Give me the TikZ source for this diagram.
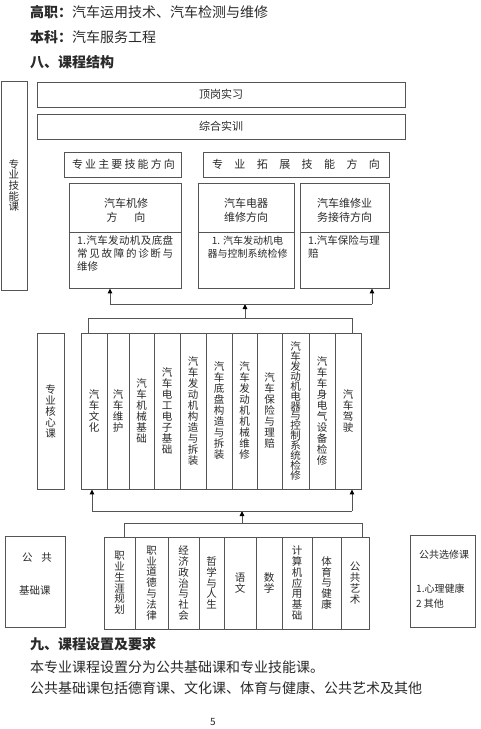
\documentclass[tikz,border=0pt]{standalone}
\usepackage{fontspec}
\setmainfont{Noto Sans CJK SC}
\usetikzlibrary{arrows.meta}
\definecolor{lc}{HTML}{555555}
\definecolor{tc}{HTML}{2A2A2A}
% spread characters over a given width
\def\spreadit#1{\ifx\relax#1\else#1\expandafter\spreadnext\fi}
\def\spreadnext#1{\ifx\relax#1\else\hfill#1\expandafter\spreadnext\fi}
\newcommand\spr[2]{\makebox[#1]{\spreadit#2\relax}}
% vertical stacked text
\newcommand\vt[2][11pt]{\vbox{\baselineskip=#1\lineskiplimit=-100pt\relax\expandafter\vtnext#2\relax}}
\def\vtnext#1{\ifx\relax#1\else\hbox to 1em{\hss#1\hss}\expandafter\vtnext\fi}
\begin{document}
\begin{tikzpicture}[x=1pt,y=-1pt,
  bx/.style={draw=lc,line width=0.9pt,inner sep=0pt},
  ln/.style={draw=lc,line width=1pt},
  ar/.style={draw=lc,line width=1pt,-{Triangle[length=5pt,width=4.5pt,color=black]}},
  hd/.style={anchor=west,inner sep=0pt,text=tc,font=\fontsize{14}{16}\selectfont},
  lab/.style={inner sep=0pt,text=tc,font=\fontsize{11}{14}\selectfont},
  sm/.style={inner sep=0pt,text=tc,font=\fontsize{10.5}{13}\selectfont},
  vl/.style={inner sep=0pt,text=tc,font=\fontsize{10.5}{11}\selectfont}]
\useasboundingbox[fill=white] (0,0) rectangle (480,729);

% header texts
\node[hd] (h1) at (30,12) {\textbf{高职：}汽车运用技术、汽车检测与维修};
\node[hd] (h2) at (30,37) {\textbf{本科：}汽车服务工程};
\node[hd] (h3) at (30,62) {\textbf{八、课程结构}};

% upper boxes
\node[bx,minimum width=26pt,minimum height=209pt] (skill) at (14,185.5) {};
\node[vl] (skillt) at (skill) {\vt[10.7pt]{专业技能课}};
\node[bx,minimum width=368pt,minimum height=25pt,lab] (dg) at (221,94.5) {顶岗实习};
\node[bx,minimum width=368pt,minimum height=25pt,lab] (zh) at (221,126.5) {综合实训};
\node[bx,minimum width=117pt,minimum height=25pt] (zy) at (122.5,164.5) {};
\node[lab] (zyt) at (123.5,164.5) {\spr{103pt}{专业主要技能方向}};
\node[bx,minimum width=186pt,minimum height=25pt] (tz) at (296,164.5) {};
\node[lab] (tzt) at (296,164.5) {\spr{168pt}{专业拓展技能方向}};

% direction boxes
\node[bx,minimum width=112pt,minimum height=49pt] (d1t) at (125,207.5) {};
\node[bx,minimum width=112pt,minimum height=56pt] (d1b) at (125,260) {};
\node[bx,minimum width=96pt,minimum height=49pt] (d2t) at (246,207.5) {};
\node[bx,minimum width=96pt,minimum height=56pt] (d2b) at (246,260) {};
\node[bx,minimum width=89pt,minimum height=49pt] (d3t) at (344.5,207.5) {};
\node[bx,minimum width=89pt,minimum height=56pt] (d3b) at (344.5,260) {};
\node[lab,align=center] (d1tt) at (126,210) {汽车机修\\\spr{39pt}{方向}};
\node[lab,align=center] (d2tt) at (246,210) {汽车电器\\维修方向};
\node[lab,align=center] (d3tt) at (344.5,210) {汽车维修业\\务接待方向};
\node[sm,anchor=north west,align=left] (d1bt) at (77,235.5)
  {\spr{96pt}{{1.}汽车发动机及底盘}\\\spr{96pt}{常见故障的诊断与}\\维修};
\node[sm,align=center,font=\fontsize{10}{13}\selectfont] (d2bt) at (247.5,247.5)
  {1. 汽车发动机电\\器与控制系统检修};
\node[sm,anchor=north west,align=left] (d3bt) at (308,235.5) {1.汽车保险与理\\赔};

% core courses
\node[bx,minimum width=27pt,minimum height=156pt] (core) at (50.5,411) {};
\node[vl] (coret) at (core) {\vt{专业核心课}};
\foreach \a/\b/\s/\t [count=\i] in {
  81/107/11pt/汽车文化,
  107/129/11pt/汽车维护,
  129/154/11pt/汽车机械基础,
  154/180/11pt/汽车电工电子基础,
  180/206/11pt/汽车发动机构造与拆装,
  206/232/11pt/汽车底盘构造与拆装,
  232/257/11pt/汽车发动机机械维修,
  257/282/11pt/汽车保险与理赔,
  282/309/9.9pt/汽车发动机电器与控制系统检修,
  309/335/11pt/汽车车身电气设备检修,
  335/361/11pt/汽车驾驶}{
  \node[bx,minimum width={(\b-\a)*1pt},minimum height=156pt] (c\i) at ({(\a+\b)/2},411) {};
  \node[vl] (ct\i) at (c\i) {\vt[\s]{\t}};
}

% public basic courses
\node[bx,minimum width=60pt,minimum height=91pt] (gj) at (35,581.5) {};
\node[sm] (gjt1) at (37,558) {\spr{30pt}{公共}};
\node[sm] (gjt2) at (35,590) {基础课};
\foreach \a/\b/\t [count=\i] in {
  104/135/职业生涯规划,
  135/168/职业道德与法律,
  168/199/经济政治与社会,
  199/224/哲学与人生,
  224/256/语文,
  256/282/数学,
  282/312/计算机应用基础,
  312/341/体育与健康,
  341/369/公共艺术}{
  \node[bx,minimum width={(\b-\a)*1pt},minimum height=92pt] (p\i) at ({(\a+\b)/2},583) {};
  \node[vl] (pt\i) at (p\i) {\vt[10.8pt]{\t}};
}
\node[bx,minimum width=65pt,minimum height=92pt] (xx) at (442.5,581) {};
\node[sm,anchor=west,font=\fontsize{10}{12}\selectfont] (xxt1) at (419,555) {公共选修课};
\node[sm,anchor=west,font=\fontsize{10}{12}\selectfont] (xxt2) at (416,589) {1.心理健康};
\node[sm,anchor=west,font=\fontsize{10}{12}\selectfont] (xxt3) at (416,604) {2 其他};

% connectors: core -> directions
\coordinate (k1) at (88,318);
\coordinate (k2) at (352,318);
\coordinate (km) at (245,318);
\coordinate (m1) at (110,304);
\coordinate (m2) at (372,304);
\draw[ln] (k1 |- c1.north) -- (k1) -- (k2) -- (k2 |- c11.north);
\draw[ar] (km) -- (km |- m1);
\draw[ln] (m1) -- (m2);
\draw[ar] (m1) -- (m1 |- d1b.south);
\draw[ar] (m2) -- (m2 |- d3b.south);

% connectors: public -> core
\coordinate (b1) at (124,523);
\coordinate (b2) at (362,523);
\coordinate (bm) at (242,523);
\coordinate (g1) at (92,511);
\coordinate (g2) at (352,511);
\draw[ln] (b1 |- p1.north) -- (b1) -- (b2) -- (b2 |- p9.north);
\draw[ar] (bm) -- (bm |- g1);
\draw[ln] (g1) -- (g2);
\draw[ar] (g1) -- (g1 |- c1.south);
\draw[ar] (g2) -- (g2 |- c11.south);

% bottom texts
\node[hd] (f1) at (30,644) {\textbf{九、课程设置及要求}};
\node[hd] (f2) at (30,667) {本专业课程设置分为公共基础课和专业技能课。};
\node[hd] (f3) at (30,688) {公共基础课包括德育课、文化课、体育与健康、公共艺术及其他};
\node[inner sep=0pt,text=tc,font=\fontsize{10}{12}\selectfont] (pg) at (213,722) {5};
\end{tikzpicture}
\end{document}
